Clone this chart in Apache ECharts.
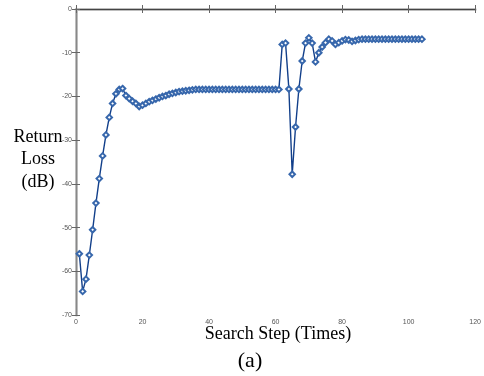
<!DOCTYPE html>
<html>
<head>
<meta charset="utf-8">
<script src="https://cdn.jsdelivr.net/npm/echarts@6/dist/echarts.min.js"></script>
<style>
html,body{margin:0;padding:0;background:#fff;}
#c{width:484px;height:376px;}
</style>
</head>
<body>
<div id="c"></div>
<script>
// Return loss (dB) at each search step (1..104)
const returnLoss = [
  -56.0, -64.6, -61.8, -56.3, -50.5, -44.4, -38.8, -33.6, -28.8, -24.8,
  -21.6, -19.4, -18.4, -18.2, -19.8, -20.5, -21.1, -21.6, -22.3, -22.0,
  -21.6, -21.2, -20.9, -20.6, -20.3, -20.0, -19.8, -19.5, -19.3, -19.1,
  -18.9, -18.8, -18.7, -18.6, -18.5,
  -18.4, -18.4, -18.4, -18.4, -18.4, -18.4, -18.4, -18.4, -18.4, -18.4,
  -18.4, -18.4, -18.4, -18.4, -18.4, -18.4, -18.4, -18.4, -18.4, -18.4,
  -18.4, -18.4, -18.4, -18.4, -18.4, -18.4,
  -8.1, -7.8, -18.3, -37.8, -27.0, -18.3, -11.9, -7.8, -6.6, -7.8,
  -12.1, -10.0, -8.7, -7.7, -6.9, -7.3, -8.1, -7.7, -7.3, -7.0,
  -7.1, -7.4, -7.2, -7.0,
  -6.9, -6.9, -6.9, -6.9, -6.9, -6.9, -6.9, -6.9, -6.9, -6.9,
  -6.9, -6.9, -6.9, -6.9, -6.9, -6.9, -6.9, -6.9, -6.9
];
const steps = returnLoss.map((_, i) => i + 1);
const xTicks = { min: 0, max: 120, interval: 20 };
const yTicks = { min: -70, max: 0, interval: 10 };
const yTitle = ['Return', 'Loss', '(dB)'];
const xTitle = 'Search Step (Times)';
const caption = '(a)';

const chart = echarts.init(document.getElementById('c'));
const tickLabel = { fontSize: 7, color: '#555', fontFamily: 'Liberation Sans, Arial, sans-serif' };
const serif = '18px "Liberation Serif", "Times New Roman", serif';
chart.setOption({
  animation: false,
  backgroundColor: '#fff',
  grid: { left: 76, right: 4, top: 9, bottom: 61, containLabel: false },
  xAxis: [
    { type: 'value', position: 'bottom', min: xTicks.min, max: xTicks.max, interval: xTicks.interval,
      axisLine: { show: true, lineStyle: { color: '#bdbdbd', width: 3 } },
      axisTick: { show: true, inside: true, length: 4, lineStyle: { color: '#666' } },
      axisLabel: Object.assign({ margin: 4 }, tickLabel),
      splitLine: { show: false } },
    { type: 'value', position: 'top', min: xTicks.min, max: xTicks.max, interval: xTicks.interval,
      axisLine: { show: true, lineStyle: { color: '#444', width: 1 } },
      axisTick: { show: true, inside: true, length: 4, lineStyle: { color: '#666' } },
      axisLabel: { show: false }, splitLine: { show: false } }
  ],
  yAxis: [
    { type: 'value', position: 'left', min: yTicks.min, max: yTicks.max, interval: yTicks.interval,
      axisLine: { show: true, lineStyle: { color: '#bdbdbd', width: 3 } },
      axisTick: { show: true, inside: true, length: 4, lineStyle: { color: '#666' } },
      axisLabel: Object.assign({ margin: 4 }, tickLabel),
      splitLine: { show: false } },
    { type: 'value', position: 'right', min: yTicks.min, max: yTicks.max, interval: yTicks.interval,
      axisLine: { show: true, lineStyle: { color: '#888', width: 1 } },
      axisTick: { show: true, inside: true, length: 4, lineStyle: { color: '#666' } },
      axisLabel: { show: false }, splitLine: { show: false } }
  ],
  series: [{
    type: 'line',
    data: steps.map((s, i) => [s, returnLoss[i]]),
    symbol: 'emptyDiamond',
    symbolSize: 5.5,
    itemStyle: { color: '#3767ac', borderWidth: 1.2 },
    lineStyle: { color: '#123f8a', width: 1.4 }
  }],
  graphic: [
    { type: 'text', x: 38, y: 137, style: { text: yTitle[0], font: serif, fill: '#000', align: 'center', verticalAlign: 'middle' } },
    { type: 'text', x: 38, y: 159, style: { text: yTitle[1], font: serif, fill: '#000', align: 'center', verticalAlign: 'middle' } },
    { type: 'text', x: 38, y: 182, style: { text: yTitle[2], font: serif, fill: '#000', align: 'center', verticalAlign: 'middle' } },
    { type: 'text', x: 278, y: 334, style: { text: xTitle, font: serif, fill: '#000', align: 'center', verticalAlign: 'middle' } },
    { type: 'text', x: 250, y: 361, style: { text: caption, font: '22px "Liberation Serif", "Times New Roman", serif', fill: '#000', align: 'center', verticalAlign: 'middle' } }
  ]
});
</script>
</body>
</html>
